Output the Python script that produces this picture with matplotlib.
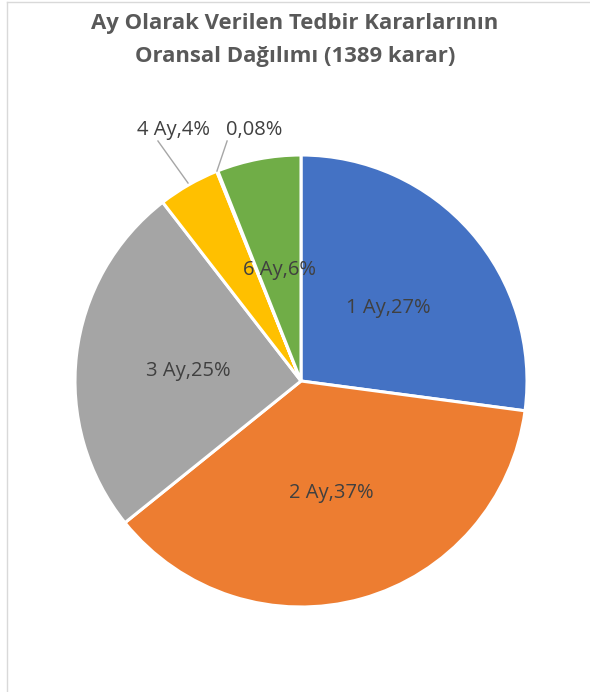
import matplotlib
matplotlib.use("Agg")
import matplotlib.pyplot as plt
from matplotlib.lines import Line2D

# data
categories = ["1 Ay", "2 Ay", "3 Ay", "4 Ay", "5 Ay", "6 Ay"]
percents = [27.1, 37.1, 25.3, 4.4, 0.08, 6.0]
labels = ["1 Ay,27%", "2 Ay,37%", "3 Ay,25%", "4 Ay,4%", "0,08%", "6 Ay,6%"]
colors = ["#4472C4", "#ED7D31", "#A5A5A5", "#FFC000", "#5B9BD5", "#70AD47"]
title = "Ay Olarak Verilen Tedbir Kararlarının\nOransal Dağılımı (1389 karar)"

plt.rcParams["font.family"] = ["Open Sans", "DejaVu Sans"]

W, H = 590, 692
fig = plt.figure(figsize=(W / 100, H / 100), dpi=100)

# pie axes: centre (301, 381) px, radius 226 px
cx, cy, r = 301, 381, 226
ax = fig.add_axes([(cx - r) / W, 1 - (cy + r) / H, 2 * r / W, 2 * r / H])
ax.pie(percents, colors=colors, startangle=90, counterclock=False, radius=1,
       wedgeprops=dict(edgecolor="white", linewidth=2.2))
ax.set_xlim(-1, 1)
ax.set_ylim(-1, 1)
ax.set_aspect("equal")
ax.axis("off")

# label positions (data coords of the pie axes)
label_pos = [(0.385, 0.323), (0.133, -0.496), (-0.50, 0.044),
             (-0.562, 1.112), (-0.205, 1.112), (-0.093, 0.491)]
for txt, (x, y) in zip(labels, label_pos):
    ax.text(x, y, txt, ha="center", va="center", fontsize=14.5,
            color="#404040", clip_on=False)

# leader lines for the small slices
ax.plot([-0.633, -0.50], [1.062, 0.876], color="#A6A6A6", lw=1, clip_on=False)
ax.plot([-0.327, -0.372], [1.062, 0.929], color="#A6A6A6", lw=1, clip_on=False)

fig.text(0.5, 1 - 40 / H, title, ha="center", va="center", fontsize=15.9,
         fontweight="bold", color="#595959", linespacing=1.75)

# chart frame (top and left edges visible)
fig.add_artist(Line2D([7 / W, 1], [1 - 2 / H, 1 - 2 / H], color="#D9D9D9", lw=1))
fig.add_artist(Line2D([7 / W, 7 / W], [0, 1 - 2 / H], color="#D9D9D9", lw=1))

fig.savefig("out.png", dpi=100, facecolor="white")
